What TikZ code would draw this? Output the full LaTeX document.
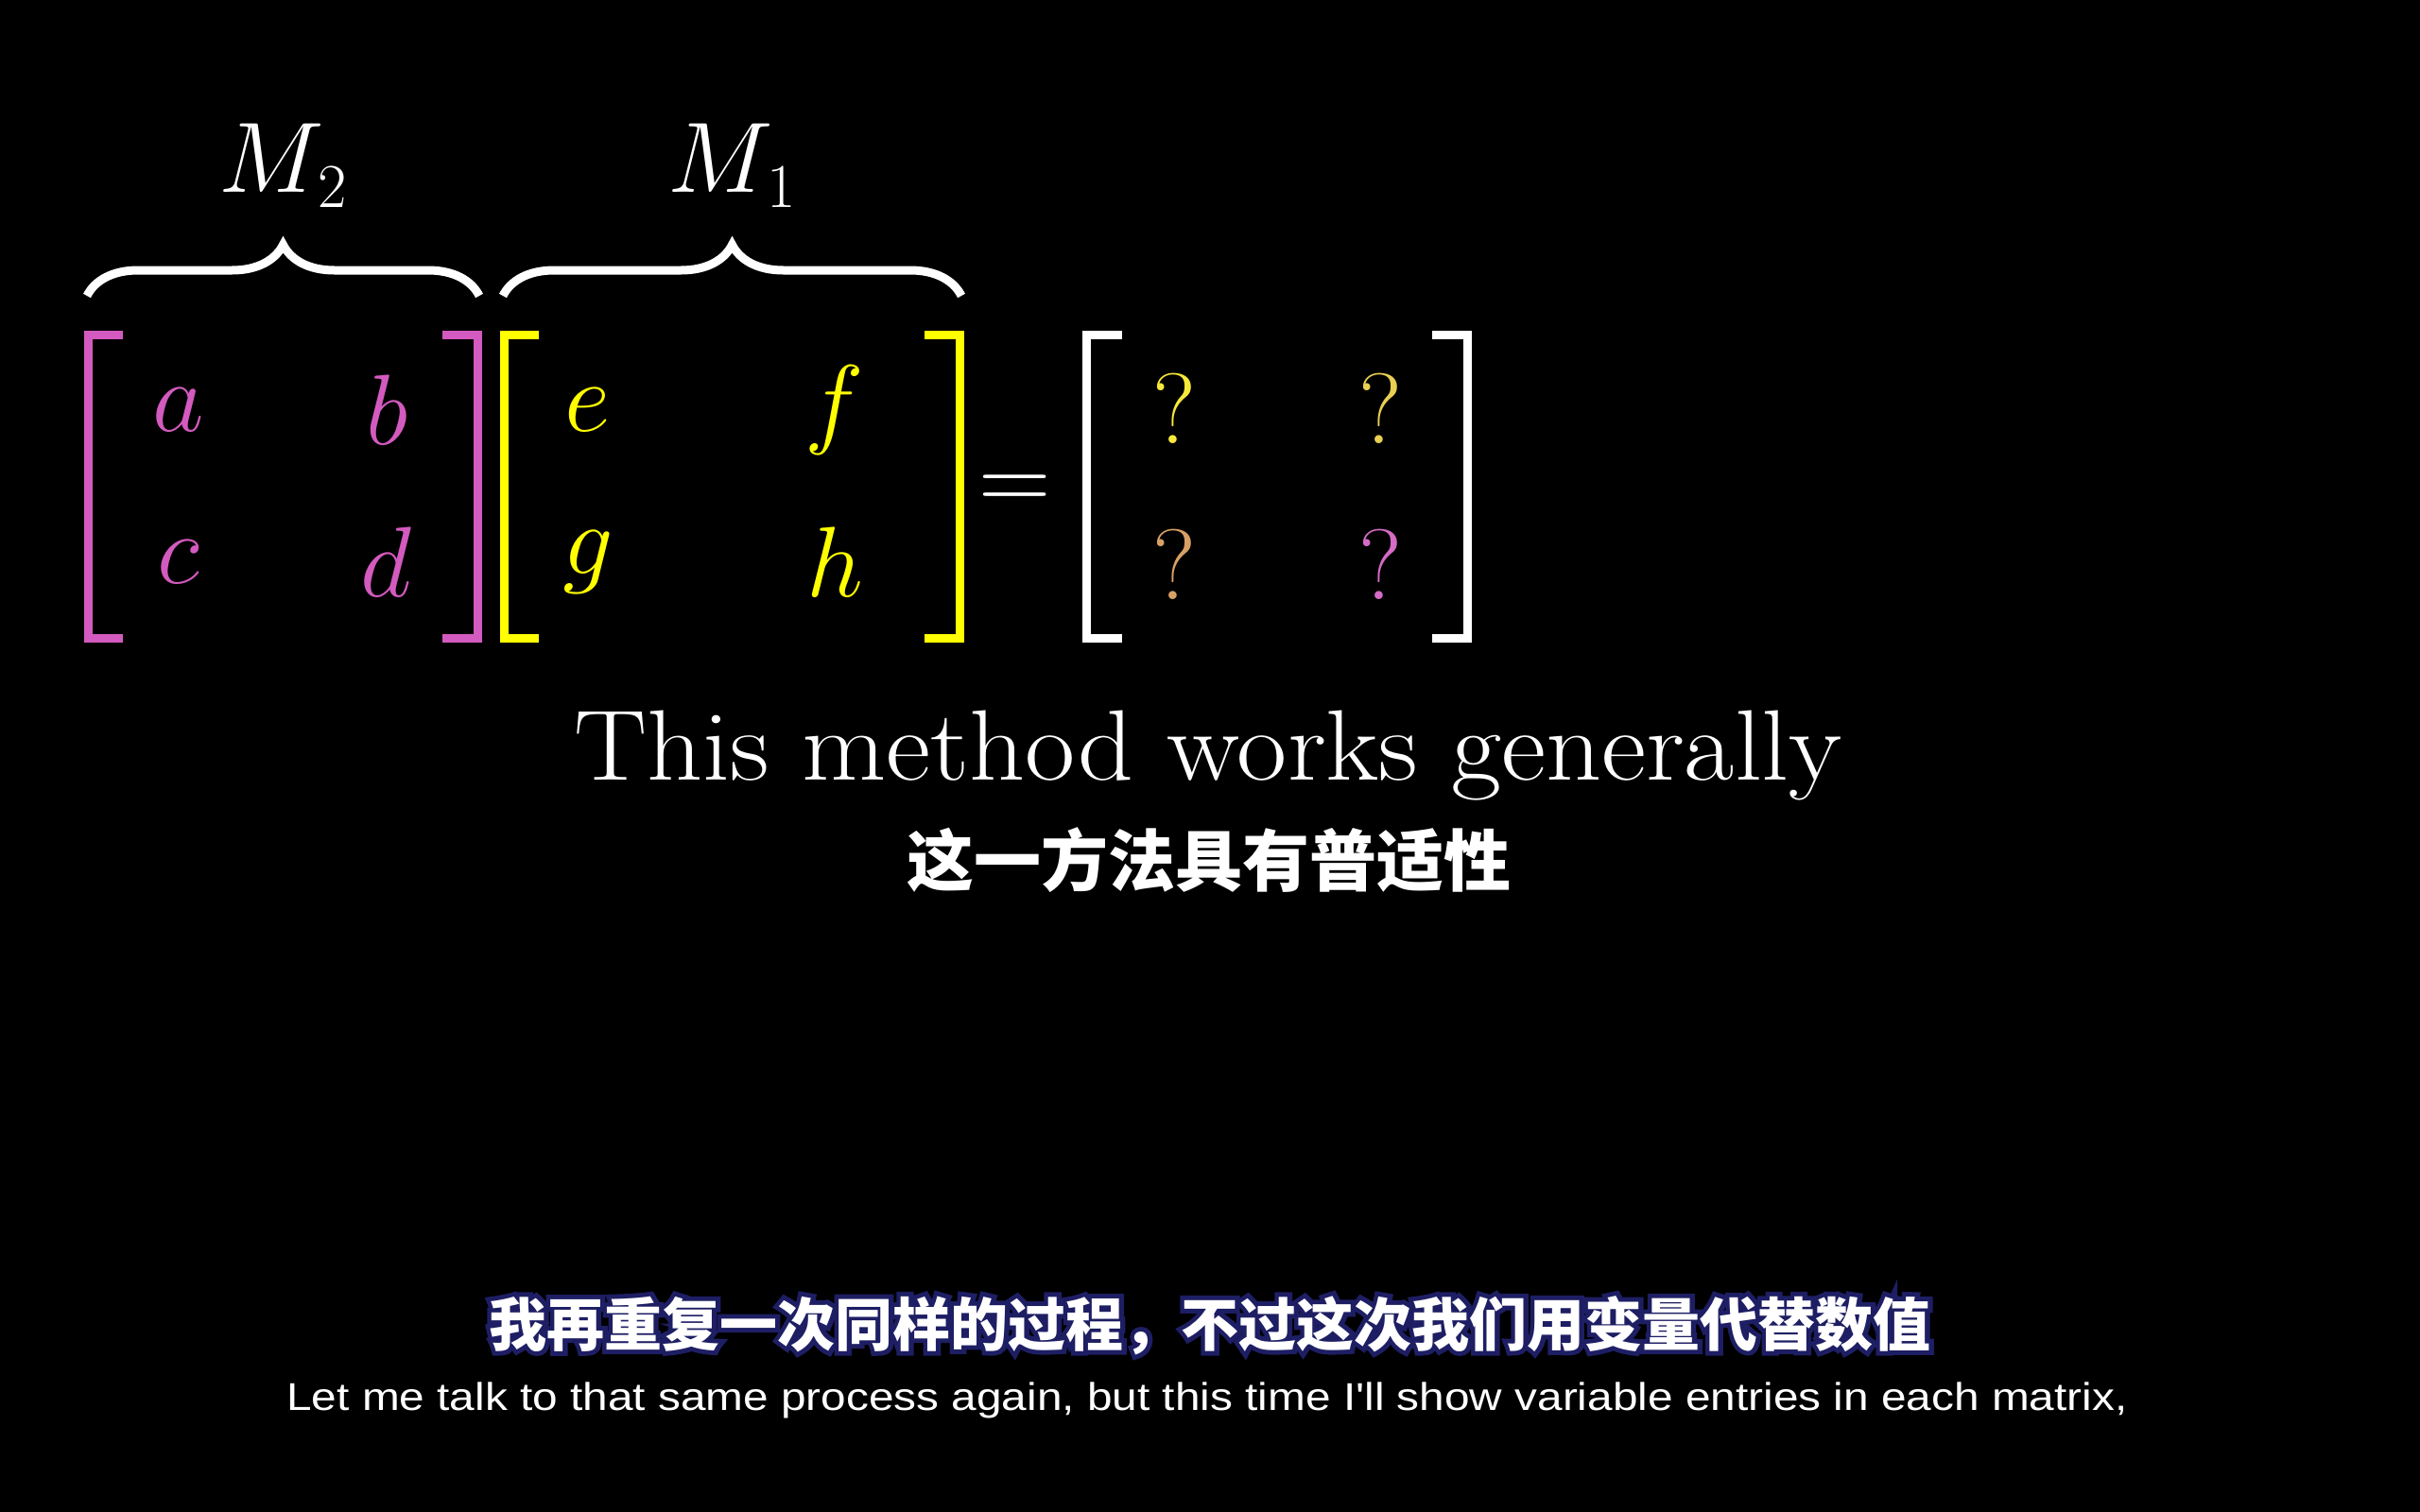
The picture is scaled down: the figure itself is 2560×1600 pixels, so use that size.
\RequirePackage{fix-cm}
\documentclass[tikz,border=0pt]{standalone}
\usepackage{fontspec}
\usetikzlibrary{decorations.pathreplacing}
\newfontfamily\cjk{Noto Sans CJK SC}
\newfontfamily\cjkol{Noto Sans CJK SC}[BoldFeatures={FakeBold=16}]
\newfontfamily\arialf{Liberation Sans}
\definecolor{pinkc}{HTML}{D35ABF}
\definecolor{yellowc}{HTML}{FFFF00}
\definecolor{qone}{HTML}{F7E93A}
\definecolor{qtwo}{HTML}{E9CF52}
\definecolor{qthree}{HTML}{D9A066}
\definecolor{qfour}{HTML}{D56CC6}
\definecolor{subnavy}{HTML}{1E1E64}
\tikzset{
  mat/.style={inner sep=0pt, font=\fontsize{106}{120}\selectfont},
  brk/.style={line width=9pt, line join=miter, line cap=butt},
  brc/.style={decorate, decoration={brace, amplitude=54pt}, line width=9pt, white},
  lbl/.style={inner sep=0pt, anchor=base, text=white, font=\fontsize{106}{120}\selectfont},
}
\begin{document}
\begin{tikzpicture}[x=1pt,y=-1pt]
\fill[black] (0,0) rectangle (2560,1600);
\useasboundingbox (0,0) rectangle (2560,1600);

% brackets
\draw[brk, pinkc] (130,354.5) -- (93.5,354.5) -- (93.5,675.5) -- (130,675.5);
\draw[brk, pinkc] (468,354.5) -- (505.5,354.5) -- (505.5,675.5) -- (468,675.5);
\draw[brk, yellowc] (570,354.5) -- (533.5,354.5) -- (533.5,675.5) -- (570,675.5);
\draw[brk, yellowc] (978,354.5) -- (1015.5,354.5) -- (1015.5,675.5) -- (978,675.5);
\draw[brk, white] (1187,354.5) -- (1149.5,354.5) -- (1149.5,675.5) -- (1187,675.5);
\draw[brk, white] (1515,354.5) -- (1552.5,354.5) -- (1552.5,675.5) -- (1515,675.5);

% entries
\node[mat, text=pinkc] (a) at (189,434) {$a$};
\node[mat, text=pinkc] (b) at (410,434) {$b$};
\node[mat, text=pinkc] (c) at (189,595) {$c$};
\node[mat, text=pinkc] (d) at (408,595) {$d$};
\node[mat, text=yellowc] (e) at (622,434) {$e$};
\node[mat, text=yellowc] (f) at (883,434) {$f$};
\node[mat, text=yellowc] (g) at (622,595) {$g$};
\node[mat, text=yellowc] (h) at (883,595) {$h$};
\node[mat, text=qone] (q1) at (1242,432) {?};
\node[mat, text=qtwo] (q2) at (1460,432) {?};
\node[mat, text=qthree] (q3) at (1242,597) {?};
\node[mat, text=qfour] (q4) at (1460,597) {?};
\node[mat, anchor=base, text=white] (eq) at (1074,540) {$=$};

% braces
\coordinate (b2s) at (92,313);
\coordinate (b2e) at (507,313);
\coordinate (b1s) at (532,313);
\coordinate (b1e) at (1017,313);
\draw[brc] (b2s) -- (b2e);
\draw[brc] (b1s) -- (b1e);
\node[lbl] (m2) at (299,203) {$M$\kern-6pt\raisebox{-17pt}{\fontsize{66}{66}\selectfont 2}};
\node[lbl] (m1) at (774,203) {$M$\kern-6pt\raisebox{-17pt}{\fontsize{66}{66}\selectfont 1}};

% texts
\node[lbl] (t1) at (1278,825) {\scalebox{1.09}[1]{This method works generally}};
\node[inner sep=0pt, anchor=base, text=white, font=\cjk\bfseries\fontsize{71}{80}\selectfont] (t2) at (1279,937) {这一方法具有普适性};
\node[inner sep=0pt, anchor=base, text=subnavy, font=\cjkol\bfseries\fontsize{61}{70}\selectfont] (s1o) at (1280,1424) {我再重复一次同样的过程，不过这次我们用变量代替数值};
\node[inner sep=0pt, anchor=base, text=white, font=\cjk\bfseries\fontsize{61}{70}\selectfont] (s1) at (1280,1424) {我再重复一次同样的过程，不过这次我们用变量代替数值};
\node[inner sep=0pt, anchor=base, text=white, font=\arialf\fontsize{41}{48}\selectfont] (s2) at (1277,1492) {\scalebox{1.165}[1]{Let me talk to that same process again, but this time I'll show variable entries in each matrix,}};
\end{tikzpicture}
\end{document}
